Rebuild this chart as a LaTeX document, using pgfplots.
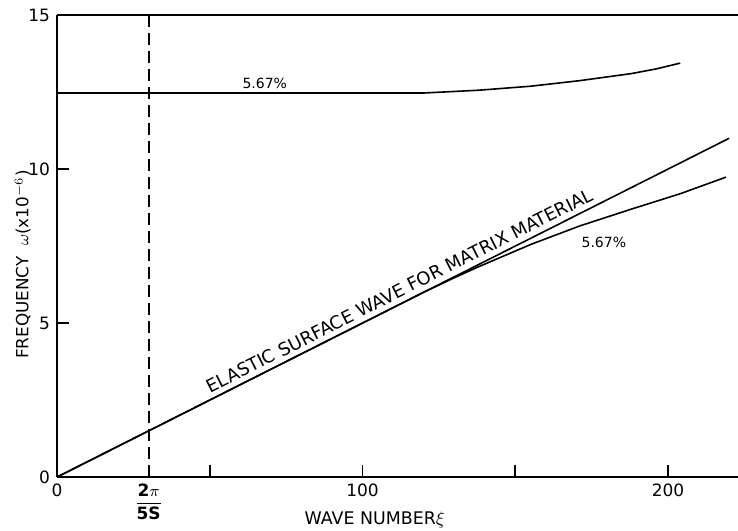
\documentclass[border=0pt]{standalone}
\usepackage{pgfplots}
\pgfplotsset{compat=1.18}
\usepackage{fontspec}
\setmainfont{DejaVu Sans}
\begin{document}
\begin{tikzpicture}
\begin{axis}[
  scale only axis,
  width=340.5pt, height=231pt,
  xmin=0, xmax=222.9, ymin=0, ymax=15,
  axis x line*=bottom, axis y line*=left,
  axis line style={-, line width=1pt},
  tick align=inside,
  major tick length=6pt,
  tick style={black, line width=0.9pt},
  xtick={0,30,50,100,150,200},
  xticklabels={0,{$\displaystyle\frac{\mathbf{2}\pi}{\mathbf{5S}}$},,100,,200},
  ytick={0,5,10,15},
  /pgf/number format/assume math mode=true,
  tick label style={font=\fontsize{8.5}{10}\selectfont},
  clip=false,
]
\addplot[black, line width=1pt] coordinates {(0,15) (222.9,15)};
\addplot[black, line width=0.9pt, dash pattern=on 6pt off 3pt] coordinates {(30,0) (30,15)};
\addplot[black, line width=0.8pt] coordinates {(0,12.47) (60,12.47) (120,12.47) (138,12.56) (155,12.69) (171,12.87) (188,13.1) (196,13.25) (204,13.44)};
\addplot[black, line width=0.8pt] coordinates {(0,0) (220,11.0)};
\addplot[black, line width=0.8pt] coordinates {(0,0) (100,5.0) (120,6.0) (130,6.47) (138,6.83) (155,7.55) (171,8.15) (188,8.7) (204,9.2) (219,9.74)};
\node[font=\fontsize{7}{9}\selectfont, anchor=center] at (axis cs:68,12.79) {5.67\%};
\node[font=\fontsize{7}{9}\selectfont, anchor=center] at (axis cs:179,7.63) {5.67\%};
\node[font=\fontsize{9}{10}\selectfont, anchor=south, rotate=26.75, inner sep=2.5pt] at (axis cs:114,5.7) {ELASTIC SURFACE WAVE FOR MATRIX MATERIAL};
\node[font=\fontsize{8.7}{9}\selectfont, anchor=center] at (axis cs:104,-1.40) {WAVE NUMBER$\xi$};
\node[font=\fontsize{8.4}{9}\selectfont, anchor=center, rotate=90] at (axis cs:-11.2,6.9) {FREQUENCY\ \ $\omega$(x10$^{-6}$)};
\coordinate (bl) at (axis cs:-18.66,-1.72);
\coordinate (tr) at (axis cs:222.9,15.49);
\end{axis}
\pgfresetboundingbox
\path[use as bounding box] (bl) rectangle (tr);
\end{tikzpicture}
\end{document}
